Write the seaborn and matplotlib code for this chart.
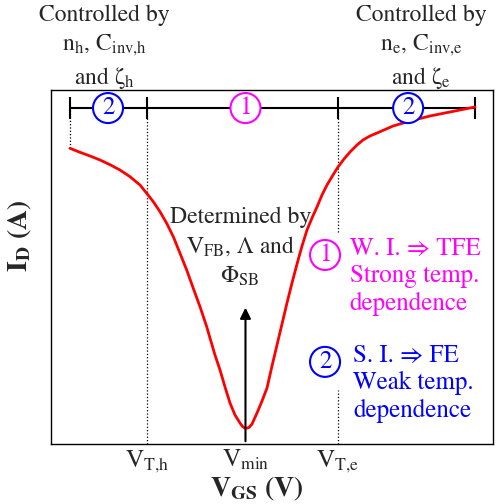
import numpy as np
import pandas as pd
import seaborn as sns
import matplotlib.pyplot as plt

# I_D vs V_GS sketch (arbitrary units)
vgs = [0.430, 0.656, 0.882, 1.109, 1.335, 1.561, 1.787, 2.014, 2.165, 2.314,
       2.466, 2.618, 2.767, 2.919, 3.070, 3.219, 3.371, 3.523, 3.597, 3.710,
       3.824, 3.937, 4.050, 4.163, 4.276, 4.333, 4.400, 4.480, 4.548, 4.661,
       4.774, 4.887, 5.000, 5.113, 5.226, 5.339, 5.452, 5.566, 5.679, 5.792,
       5.905, 6.018, 6.131, 6.244, 6.380, 6.493, 6.629, 6.765, 6.923, 7.059,
       7.217, 7.376, 7.557, 7.738, 8.122, 8.575, 9.027, 9.593]
i_d = [8.353, 8.240, 8.136, 8.023, 7.890, 7.740, 7.551, 7.316, 7.082, 6.845,
       6.562, 6.234, 5.856, 5.387, 4.915, 4.398, 3.879, 3.314, 2.994, 2.514,
       2.090, 1.610, 1.158, 0.819, 0.593, 0.494, 0.440, 0.466, 0.565, 0.876,
       1.215, 1.582, 2.203, 2.797, 3.390, 3.983, 4.548, 5.085, 5.593, 6.045,
       6.384, 6.695, 7.034, 7.316, 7.599, 7.825, 8.051, 8.249, 8.446, 8.588,
       8.701, 8.785, 8.884, 8.983, 9.124, 9.266, 9.379, 9.520]

# characteristic voltages
v_start, v_th, v_min, v_te, v_end = 0.43, 2.17, 4.40, 6.49, 9.59
tick_pos = [v_th, v_min, v_te]
tick_labels = ["V$_{T{,}h}$", "V$_{min}$", "V$_{T{,}e}$"]

# regime markers on the top bar: (position, label, colour)
regimes = [(1.29, "2", "blue"), (v_min, "1", "magenta"), (8.08, "2", "blue")]

df = pd.DataFrame({"vgs": vgs, "id": i_d})

sns.set_style("white")
# Times-like serif (STIX ships with matplotlib)
plt.rcParams["font.family"] = ["STIXGeneral", "DejaVu Serif"]
plt.rcParams["mathtext.fontset"] = "stix"
plt.rcParams["mathtext.default"] = "rm"

fig = plt.figure(figsize=(4.98, 5.04), dpi=100)
ax = fig.add_axes([51 / 498, 60 / 504, 442 / 498, 354 / 504])

bar_y = 9.49

# dotted guide lines
ax.vlines(v_start, i_d[0], bar_y, colors="black", linestyles=":", lw=0.9)
ax.vlines(v_th, 0, bar_y, colors="black", linestyles=":", lw=0.9)
ax.vlines(v_te, 6.0, bar_y, colors="black", linestyles=":", lw=0.9)
ax.vlines(v_te, 0, 1.52, colors="black", linestyles=":", lw=0.9)

sns.lineplot(data=df, x="vgs", y="id", color="red", lw=2, ax=ax, sort=False, zorder=3)

# top regime bar
ax.plot([v_start, v_end], [bar_y, bar_y], color="black", lw=1.5, zorder=2)
ax.vlines([v_start, v_th, v_te, v_end], bar_y - 0.3, bar_y + 0.3, colors="black", lw=1.5, zorder=2)
for x, lab, col in regimes:
    ax.text(x, bar_y, lab, color=col, fontsize=18, ha="center", va="center", zorder=4,
            bbox=dict(boxstyle="circle,pad=0.12", fc="white", ec=col, lw=1.5))

# arrow at V_min
ax.annotate("", xy=(v_min, 3.93), xytext=(v_min, 0),
            arrowprops=dict(arrowstyle="-|>", color="black", lw=1.5, mutation_scale=16))

ax.text(4.28, 6.7, "Determined by\nV$_{FB}$, Λ and\nΦ$_{SB}$", fontsize=17,
        ha="center", va="top", linespacing=1.35)

ax.text(1.21, 12.4, "Controlled by\nn$_h$, C$_{inv{,}h}$\nand ζ$_h$", fontsize=17,
        ha="center", va="top", linespacing=1.35, clip_on=False)
ax.text(8.38, 12.4, "Controlled by\nn$_e$, C$_{inv{,}e}$\nand ζ$_e$", fontsize=17,
        ha="center", va="top", linespacing=1.35, clip_on=False)

# legend of regimes
ax.text(6.20, 5.34, "1", color="magenta", fontsize=18, ha="center", va="center",
        bbox=dict(boxstyle="circle,pad=0.12", fc="white", ec="magenta", lw=1.5))
ax.text(6.76, 5.86, "W. I. ⇒ TFE\nStrong temp.\ndependence", color="magenta",
        fontsize=18, ha="left", va="top", linespacing=1.2)
ax.text(6.20, 2.32, "2", color="blue", fontsize=18, ha="center", va="center",
        bbox=dict(boxstyle="circle,pad=0.12", fc="white", ec="blue", lw=1.5))
ax.text(6.83, 2.84, "S. I. ⇒ FE\nWeak temp.\ndependence", color="blue",
        fontsize=18, ha="left", va="top", linespacing=1.2)

ax.set_xlim(0, 10)
ax.set_ylim(0, 10)
ax.set_xticks(tick_pos)
ax.set_xticklabels(tick_labels, fontsize=18)
ax.set_yticks([])
ax.tick_params(axis="x", length=0, pad=3)
ax.set_xlabel("")
ax.set_ylabel("")
for s in ax.spines.values():
    s.set_color("black")
    s.set_linewidth(1.0)

ax.text(257 / 498, 15 / 504, r"$\mathbf{V_{GS}}$ (V)", transform=fig.transFigure, fontsize=20,
        fontweight="bold", ha="center", va="center")
ax.text(20 / 498, 268 / 504, r"$\mathbf{I_D}$ (A)", transform=fig.transFigure, fontsize=20,
        fontweight="bold", ha="center", va="center", rotation=90)

fig.savefig("out.png", dpi=100)
